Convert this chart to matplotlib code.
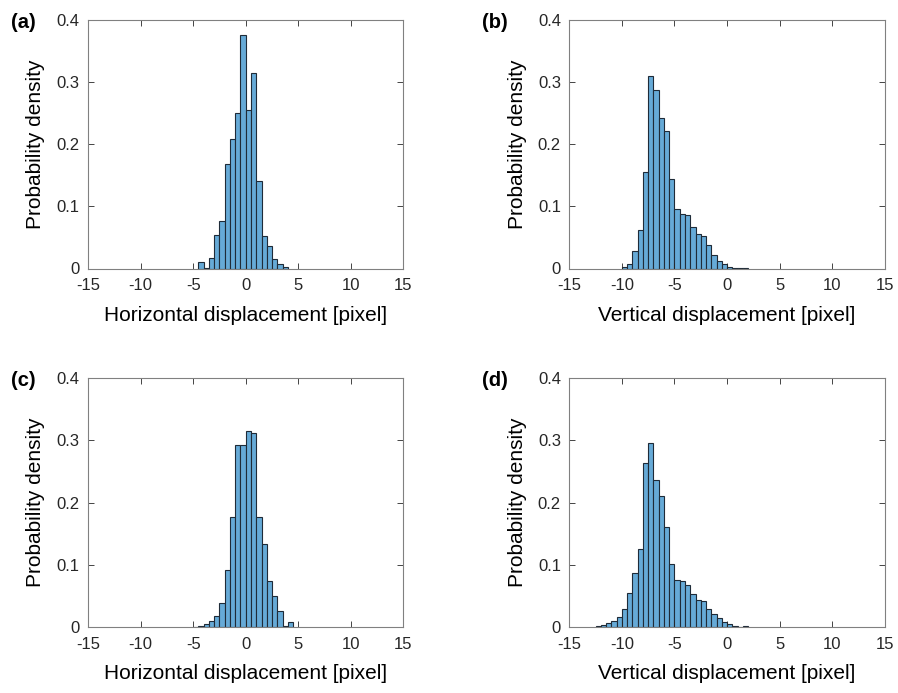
import numpy as np
import matplotlib
matplotlib.use("Agg")
import matplotlib.pyplot as plt

plt.rcParams['font.family'] = ['Liberation Sans', 'DejaVu Sans']

bin_width = 0.5

# Panel (a): horizontal displacement, bins start at -4.5
a_start = -4.5
a_vals = [0.010, 0.001, 0.017, 0.054, 0.077, 0.168, 0.208, 0.251, 0.376,
          0.255, 0.314, 0.141, 0.052, 0.037, 0.015, 0.008, 0.002]

# Panel (b): vertical displacement, bins start at -10
b_start = -10.0
b_vals = [0.002, 0.008, 0.028, 0.062, 0.155, 0.310, 0.287, 0.243, 0.222,
          0.144, 0.096, 0.088, 0.086, 0.066, 0.056, 0.052, 0.038, 0.021,
          0.012, 0.007, 0.003, 0.0005, 0.0003, 0.001]

# Panel (c): horizontal displacement, bins start at -5
c_start = -5.0
c_vals = [0.0003, 0.001, 0.004, 0.010, 0.018, 0.038, 0.091, 0.176, 0.2925,
          0.2925, 0.3156, 0.3124, 0.176, 0.134, 0.0735, 0.049, 0.025,
          0.002, 0.008]

# Panel (d): vertical displacement, bins start at -12.5
d_start = -12.5
d_vals = [0.0005, 0.0025, 0.0055, 0.009, 0.015, 0.028, 0.055, 0.086, 0.125,
          0.263, 0.296, 0.236, 0.210, 0.161, 0.101, 0.075, 0.073, 0.067,
          0.053, 0.043, 0.041, 0.029, 0.020, 0.0145, 0.008, 0.004, 0.001,
          0.0003, 0.0015]

panel_labels = ['(a)', '(b)', '(c)', '(d)']
xlabels = ['Horizontal displacement [pixel]', 'Vertical displacement [pixel]',
           'Horizontal displacement [pixel]', 'Vertical displacement [pixel]']
ylabel = 'Probability density'
xticks = [-15, -10, -5, 0, 5, 10, 15]
yticks = [0, 0.1, 0.2, 0.3, 0.4]
ytick_labels = ['0', '0.1', '0.2', '0.3', '0.4']

W, H = 898, 693
fig = plt.figure(figsize=(W / 100, H / 100), dpi=100)

axes_px = [(88, 20), (569.3, 20), (88, 378.3), (569.3, 378.3)]
ax_w, ax_h = 315.5, 248.5
label_px = [(11, 23), (482, 23), (11, 381), (482, 381)]

face = (0.4, 0.668, 0.845)
edge = (0.12, 0.17, 0.22)
axcol = (0.15, 0.15, 0.15)

data = [(a_start, a_vals), (b_start, b_vals), (c_start, c_vals), (d_start, d_vals)]

for i, (start, vals) in enumerate(data):
    lx, ty = axes_px[i]
    ax = fig.add_axes([lx / W, 1 - (ty + ax_h) / H, ax_w / W, ax_h / H])
    lefts = start + bin_width * np.arange(len(vals))
    ax.bar(lefts, vals, width=bin_width, align='edge', color=face,
           edgecolor=edge, linewidth=0.8)
    ax.set_xlim(-15, 15)
    ax.set_ylim(0, 0.4)
    ax.set_xticks(xticks)
    ax.set_xticklabels([str(t) for t in xticks])
    ax.set_yticks(yticks)
    ax.set_yticklabels(ytick_labels)
    ax.tick_params(direction='in', length=4, width=0.6, colors=axcol,
                   labelsize=12, top=True, right=True, labelcolor=axcol, pad=6)
    ax.tick_params(axis='x', pad=7)
    for s in ax.spines.values():
        s.set_color((0.5, 0.5, 0.5))
        s.set_linewidth(0.8)
    ax.set_xlabel(xlabels[i], fontsize=15, color='black', labelpad=9)
    ax.set_ylabel(ylabel, fontsize=15, color='black', labelpad=8)
    px, py = label_px[i]
    fig.text(px / W, 1 - py / H, panel_labels[i], fontsize=14.5, fontweight='bold',
             va='center', ha='left')

fig.savefig('out.png', dpi=100)
